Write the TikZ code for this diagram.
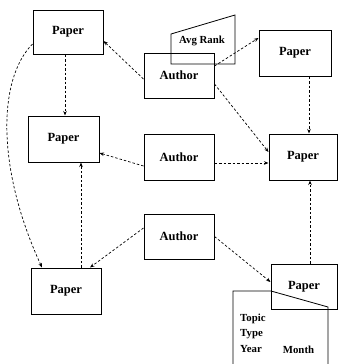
\documentclass[tikz,border=0pt]{standalone}
\usepackage{fontspec}
\setmainfont{Liberation Serif}
\usetikzlibrary{arrows.meta}
\begin{document}
\begin{tikzpicture}[x=1pt,y=-1pt,
  box/.style={draw,line width=1pt,inner sep=0pt,font=\fontsize{12.5}{14}\selectfont\bfseries},
  lbl/.style={inner sep=0pt,font=\fontsize{10.8}{12}\selectfont\bfseries},
  conn/.style={line width=0.7pt,dash pattern=on 2.5pt off 2pt,-{Stealth[length=4.5pt,width=3.5pt]}},
  thinline/.style={line width=0.8pt}]
\useasboundingbox (0,0) rectangle (338,364);
% nodes
\node[box,minimum width=70pt,minimum height=44pt] (P1) at (68,32) {Paper};
\node[box,minimum width=71pt,minimum height=46pt] (P2) at (63.5,139) {Paper};
\node[box,minimum width=70pt,minimum height=46pt] (P3) at (66,291) {Paper};
\node[box,minimum width=70pt,minimum height=45pt] (A1) at (179,75.5) {Author};
\node[box,minimum width=70pt,minimum height=46pt] (A2) at (179,157) {Author};
\node[box,minimum width=70pt,minimum height=45pt] (A3) at (179,236.5) {Author};
\node[box,minimum width=72pt,minimum height=46pt] (P4) at (295,53) {Paper};
\node[box,minimum width=68pt,minimum height=46pt] (P5) at (303,157) {Paper};
\node[box,minimum width=66pt,minimum height=45pt] (P6) at (304,286.5) {Paper};
% Avg Rank trapezoid
\draw[thinline] (171,34) -- (235,15) -- (235,64) -- (171,64) -- cycle;
\node[lbl] (avg) at (202,41) {Avg Rank};
% attribute shape
\draw[thinline] (233,366) -- (233,291) -- (271,291) -- (328,307) -- (328,366);
\node[lbl,anchor=west] (topic) at (240,319) {Topic};
\node[lbl,anchor=west] (type) at (240,334) {Type};
\node[lbl,anchor=west] (year) at (240,349) {Year};
\node[lbl] (month) at (298.5,350) {Month};
% connectors
\draw[conn] ([xshift=-3pt]P1.south) -- ([xshift=1.5pt]P2.north);
\draw[conn] ([yshift=-3.5pt]A1.west) -- ([yshift=-9pt]P1.east);
\draw[conn] ([yshift=9.5pt]A1.east) -- ([yshift=15pt]P4.west);
\draw[conn] ([yshift=-8.5pt]A1.east) -- ([yshift=5pt]P5.west);
\draw[conn] ([xshift=14pt]P4.south) -- ([xshift=6pt]P5.north);
\draw[conn] ([yshift=-6pt]A2.east) -- ([yshift=-6pt]P5.west);
\draw[conn] ([yshift=-9pt]A2.west) -- ([yshift=-14pt]P2.east);
\draw[conn] ([xshift=15pt]P3.north) -- ([xshift=17.5pt]P2.south);
\draw[conn] ([yshift=8.5pt]A3.west) -- ([xshift=24pt]P3.north);
\draw[conn] (A3.east) -- ([yshift=4.5pt]P6.west);
\draw[conn] ([xshift=6pt]P6.north) -- ([xshift=7pt]P5.south);
\draw[conn] ([yshift=-12pt]P1.west) .. controls (-3,80) and (-3,170) .. ([xshift=-24pt]P3.north);
\end{tikzpicture}
\end{document}
